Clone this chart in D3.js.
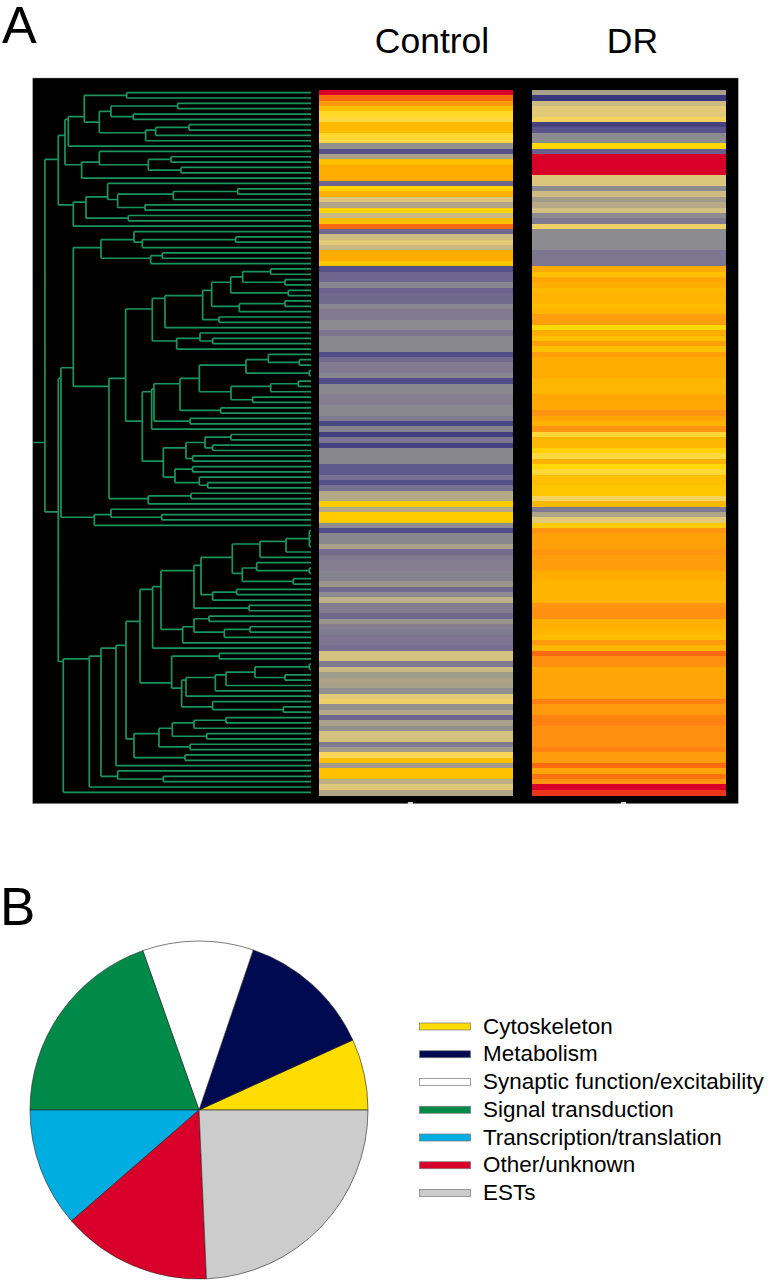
<!DOCTYPE html>
<html>
<head>
<meta charset="utf-8">
<script src="https://cdn.jsdelivr.net/npm/d3@7"></script>
<style>
html,body{margin:0;padding:0;background:#fff}
svg{display:block}
text{font-family:"Liberation Sans",Arial,sans-serif;fill:#000}
</style>
</head>
<body>
<svg id="chart" width="770" height="1280"></svg>
<script>
// ---------- data ----------
const panelLabels = ["A", "B"];
const columns = ["Control", "DR"];

// expression level per gene (row), on the 15-step colour ramp below
const control = [
14,13,11.7,10,8.5,8.2,10.3,10.3,8.5,8.2,
4.3,1.2,5,10,11,11,11,2,9.2,10.8,
6.8,5.3,9.2,6.2,10,13,2,6.3,7,6.2,
11,11,9.8,1.2,2,2,3.6,1.9,2.1,2.2,
3.8,3,3,4,4,2.8,3.8,3.8,3.8,1,
2.2,3,3,3.7,1,3.8,3.8,3.3,3.3,3.8,
3.8,3,0.7,3.5,0.4,2.8,0.5,3.7,3.7,3.7,
1.5,1.5,2.5,1.1,2.5,5.4,5.4,9.5,5.5,9.6,
9.6,4,1,3.7,3.7,5,2.3,3,3.3,3.3,
3.5,3.5,4.5,2.2,4,5.7,3.2,3.2,2.1,4.4,
3.3,3.1,2.8,2.8,2.5,6.6,6.6,3,6.2,4.8,
5.1,5,4.2,7,7.4,4.2,5.4,2,5,4.2,
6.6,6.6,3,4.7,7.8,10,4.7,10,10,5.7,
6.9,5.3];
const dr = [
5,0,6.3,7,7,7.6,0.5,1.3,4,4,
9,1.8,14,14,14,14,6.8,6.8,4,6.3,
4.8,5.5,6.5,4,3,7.4,4,4,4,4,
2.8,2.8,2.8,11,10,11.3,11,10.3,10.6,10.6,
10.2,10.6,11.6,11.6,9,11,10,11.5,10,11.6,
11,11,11,11,10.5,10.5,10.5,11.2,11.2,11.2,
12,11.3,10.7,12,8.3,10.5,10.5,9.3,8.2,10.7,
9,8.3,10,10,9.7,9.7,7.6,10.4,3,5.3,
7,9.6,12,11.5,11.5,11.5,11.9,11.6,11.6,11.6,
10.9,10.9,10.6,10.6,10.6,10.6,12,12.1,12.1,10.8,
10.8,10.5,10.2,11.8,10.5,13,12.1,12.1,11.2,11.3,
11.3,11.3,11.3,11.3,12.5,11.8,11.8,12.4,12.4,12.1,
12.1,12.1,12.1,12.4,11.6,11.6,13,11.3,12.8,12,
14,13.5];
const rampColors = ["#38377c","#524c88","#6e668f","#7f7a90","#8c8c90","#a8a088","#c4b486",
  "#e2ca78","#ffd850","#ffd800","#ffc000","#ffac00","#ff9410","#ff6a10","#d80028"];

// dendrogram: [linkage, ...children]; L is a gene. Linkage grows from root to leaves.
const L = 0;
const stemLinkage = 10, leafLinkage = 843;
const t2 = [163,[290,L,L],[208,[243,[443,L,L],[310,L,L]],[347,[377,[477,L,L],L],L]]];
const top1 = [85,
  [105,[115,t2,L],[155,[208,L,[355,[423,L,L],[453,L,L]]],L]],
  [130,[168,[233,L,[263,[430,[623,L,L],L],[345,L,L]]],[295,L,L]],L]];
const g1 = [213,[312,L,[337,[617,L,L],L]],[362,[397,L,L],L]];
const g2a1 = [367,
  [405,[518,[545,[602,[638,[722,L,L],[765,L,L]],[775,L,L]],[628,[765,L,L],L]],[567,L,L]],L],
  [440,[510,L,[548,L,L]],L]];
const g2a2 = [337,
  [365,[372,[450,[508,[648,[715,L,[808,L,L]],[838,L,L]],[603,[722,[805,L,L],L],[668,L,L]]],[572,L,L]],[480,L,L]],L],
  [400,[468,[525,[603,L,L],[548,L,L]],[488,L,L]],[435,[488,L,L],[508,L,[533,L,L]]]]];
const g2 = [237,[287,g2a1,g2a2],[355,[483,L,L],L]];
const m1 = [93,[130,g1,g2],[193,[243,L,[395,L,L]],L]];
const mA = [492,[513,[607,[690,[768,[838,L,L,L,L],L],L],[637,[680,L,[838,L,L]],[790,L,L]]],[548,[620,L,L],L]],[657,L,L]];
const mB = [458,[492,[537,L,L],[583,[660,L,L],L]],L];
const mC = [425,[568,L,L],[455,[468,[556,[588,[675,[838,L,L],[765,L,L]],L],L],L],[548,L,[760,L,L]]]];
const mD = [312,[387,[427,[492,[588,L,L],L],[530,L,L]],[480,L,L]],[465,L,L]];
const m2 = [100,[178,[213,[258,[288,[330,[368,[393,mA,mB],L],mC],mD],L],[263,L,[400,L,L]]],L],L];
const treeData = [45,top1,[85,m1,m2]];

// pie
const categories = ["Cytoskeleton","Metabolism","Synaptic function/excitability","Signal transduction","Transcription/translation","Other/unknown","ESTs"];
const shares = [6.8,13.0,10.6,19.6,11.4,14.3,24.3];
const pieColors = ["#ffdd00","#000a50","#ffffff","#008a4a","#00ade0","#d8002a","#cccccc"];

// ---------- drawing ----------
const svg = d3.select("#chart");

// Panel A background
svg.append("rect").attr("x",32.7).attr("y",78).attr("width",705.6).attr("height",725.6)
  .attr("fill","#000").attr("stroke","#9a9a9a").attr("stroke-width",0.4);

const rowIndex = d3.range(control.length);
const y = d3.scaleBand().domain(rowIndex).range([90,795]);
const colour = d3.scaleLinear().domain(d3.range(rampColors.length)).range(rampColors).clamp(true);
const colX = d3.scaleOrdinal().domain(columns).range([319.3,532.4]);
const colW = 193.2;

[control,dr].forEach((vals,c)=>{
  svg.append("g").attr("shape-rendering","crispEdges").selectAll("rect").data(vals).join("rect")
    .attr("x",colX(columns[c])).attr("width",colW)
    .attr("y",(d,i)=>y(i)).attr("height",y.bandwidth()+0.5)
    .attr("fill",d=>colour(d));
});

// dendrogram
const root = d3.hierarchy(treeData, d => Array.isArray(d) ? d.slice(1) : null);
const x = d3.scaleLinear().domain([stemLinkage,leafLinkage]).range([33.3,311]);
let leafNo = 0;
root.eachAfter(n=>{
  if(!n.children){ n.py = y(leafNo) + y.bandwidth()/2; n.count=1; n.sum=n.py; n.px = x(leafLinkage); leafNo++; }
  else {
    n.count = d3.sum(n.children,c=>c.count);
    n.sum = d3.sum(n.children,c=>c.sum);
    n.py = n.sum/n.count;
    n.px = x(n.data[0]);
  }
});
const path = d3.path();
root.each(n=>{
  if(n.children){
    const ys = n.children.map(c=>c.py);
    path.moveTo(n.px,d3.min(ys)); path.lineTo(n.px,d3.max(ys));
    n.children.forEach(c=>{ path.moveTo(n.px,c.py); path.lineTo(c.px,c.py); });
  }
});
path.moveTo(x(stemLinkage),root.py); path.lineTo(root.px,root.py);
svg.append("path").attr("d",path.toString()).attr("fill","none")
  .attr("stroke","#1a9560").attr("stroke-width",1.7);

// Panel labels and column titles
svg.append("text").attr("x",2).attr("y",43).attr("font-size",52).text(panelLabels[0]);
svg.append("text").attr("x",0).attr("y",925).attr("font-size",53).text(panelLabels[1]);
svg.append("text").attr("x",432).attr("y",52.5).attr("font-size",35.5).attr("text-anchor","middle").text(columns[0]);
svg.append("text").attr("x",632.5).attr("y",52.5).attr("font-size",35.5).attr("text-anchor","middle").text(columns[1]);

// small clipped marks under the heat columns
svg.append("g").selectAll("rect").data(columns).join("rect")
  .attr("x",c=>colX(c)+colW/2-8).attr("y",802).attr("width",5).attr("height",2).attr("fill","#ddd");

// Pie
const pie = d3.pie().sort(null).startAngle(Math.PI/2).endAngle(Math.PI/2-2*Math.PI);
const arc = d3.arc().innerRadius(0).outerRadius(169);
svg.append("g").attr("transform","translate(199,1110)")
  .selectAll("path").data(pie(shares)).join("path")
  .attr("d",arc).attr("fill",(d,i)=>pieColors[i]).attr("stroke","#222").attr("stroke-width",0.6);

// Legend
const ly = d3.scalePoint().domain(categories).range([1026.5,1193]);
const legend = svg.append("g");
legend.selectAll("rect").data(categories).join("rect")
  .attr("x",419.5).attr("width",51).attr("y",c=>ly(c)-3.5).attr("height",7)
  .attr("fill",(c,i)=>pieColors[i]).attr("stroke","#777").attr("stroke-width",0.7);
legend.selectAll("text").data(categories).join("text")
  .attr("x",483).attr("y",c=>ly(c)+7).attr("font-size",22.45).text(c=>c);
</script>
</body>
</html>
